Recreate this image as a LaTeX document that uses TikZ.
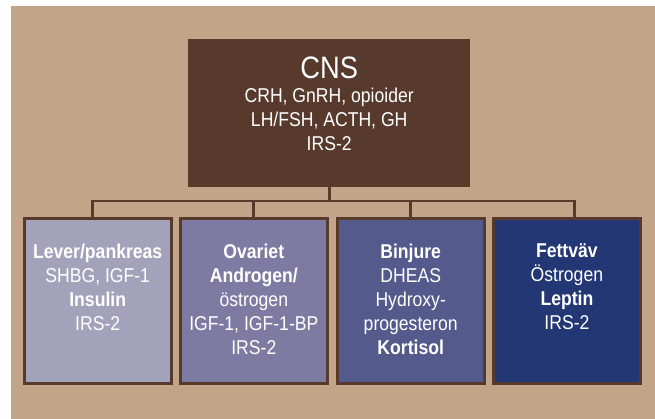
\documentclass[tikz,border=0pt]{standalone}
\usepackage{fontspec}
\setmainfont{Liberation Sans}[FakeStretch=0.88]
\usetikzlibrary{positioning}

\definecolor{tanbg}{RGB}{194,164,136}
\definecolor{cnsbrown}{RGB}{87,58,44}
\definecolor{liverfill}{RGB}{163,162,187}
\definecolor{ovaryfill}{RGB}{126,123,163}
\definecolor{adrenalfill}{RGB}{85,90,140}
\definecolor{fatfill}{RGB}{35,55,117}

\begin{document}
\begin{tikzpicture}[x=1pt,y=1pt,
    organ/.style={shape=rectangle,draw=cnsbrown,line width=2.7pt,minimum width=147pt,minimum height=165pt,inner sep=0pt},
    organtext/.style={text=white,align=center,inner sep=0pt,font=\fontsize{20}{24}\selectfont},
    link/.style={draw=cnsbrown,line width=2.7pt}]
    \useasboundingbox (0,0) rectangle (655,-419);
    \fill[tanbg] (11,-6) rectangle (655,-419);

    \node[shape=rectangle,fill=cnsbrown,minimum width=281.7pt,minimum height=147.7pt,inner sep=0pt] (cns) at (329.2,-112.9) {};
    \node[organ,fill=liverfill] (liver) at (97.7,-301.2) {};
    \node[organ,fill=ovaryfill] (ovary) at (253.8,-301.2) {};
    \node[organ,fill=adrenalfill] (adrenal) at (410.7,-301.2) {};
    \node[organ,fill=fatfill] (fat) at (566.9,-301.2) {};

    \node[organtext,below=18pt of cns.north] (cns-t) {{\fontsize{31}{30}\selectfont CNS}\\CRH, GnRH, opioider\\LH/FSH, ACTH, GH\\IRS-2};
    \node[organtext,below=26.5pt of liver.north] (liver-t) {\textbf{Lever/pankreas}\\SHBG, IGF-1\\\textbf{Insulin}\\IRS-2};
    \node[organtext,below=26.5pt of ovary.north] (ovary-t) {\textbf{Ovariet}\\\textbf{Androgen/}\\östrogen\\IGF-1, IGF-1-BP\\IRS-2};
    \node[organtext,below=26.5pt of adrenal.north] (adrenal-t) {\textbf{Binjure}\\DHEAS\\Hydroxy-\\progesteron\\\textbf{Kortisol}};
    \node[organtext,below=26.5pt of fat.north] (fat-t) {\textbf{Fettväv}\\Östrogen\\\textbf{Leptin}\\IRS-2};

    \draw[link] (cns.south) -- ++(0,-14) coordinate (bus);
    \draw[link] (bus) -| ([xshift=-5pt]liver.north);
    \draw[link] (bus) -| (ovary.north);
    \draw[link] (bus) -| (adrenal.north);
    \draw[link] (bus) -| ([xshift=7.4pt]fat.north);
\end{tikzpicture}
\end{document}
